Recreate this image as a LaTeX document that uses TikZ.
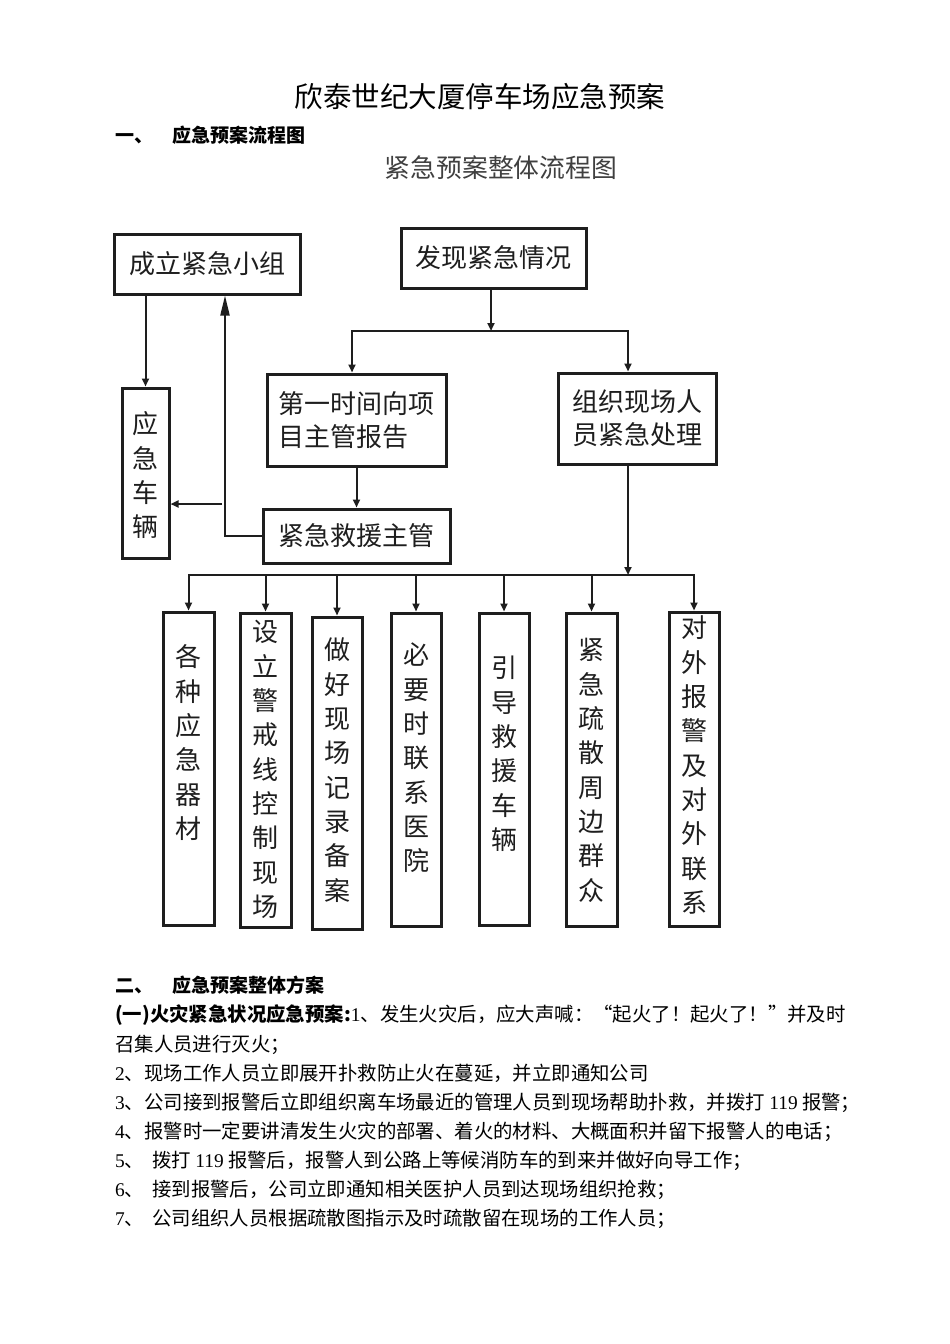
\documentclass[tikz,border=0pt]{standalone}
\usepackage{fontspec}
\setmainfont{Noto Sans CJK SC}
\newfontfamily\latn{Liberation Serif}
\usetikzlibrary{arrows.meta}
\definecolor{ink}{HTML}{1E1E1E}
\begin{document}
\begin{tikzpicture}[x=1pt,y=-1pt,
  box/.style={draw=ink, line width=3pt, inner sep=0pt, text=ink, font=\fontsize{26}{33}\selectfont},
  vch/.style={inner sep=0pt, text=ink, text height=20.8pt, text depth=1pt, font=\fontsize{26}{26}\selectfont},
  conn/.style={line width=2pt, draw=ink},
  arr/.style={conn, -{Triangle[length=8pt,width=7pt]}},
  bigarr/.style={conn, -{Triangle[length=20pt,width=9pt]}},
  ln/.style={anchor=west, inner sep=0pt, text height=15.5pt, text depth=0.8pt, font=\fontsize{19.4}{19.4}\selectfont},
  bln/.style={ln, font=\bfseries\fontsize{19}{19}\selectfont},
]
\useasboundingbox (0,0) rectangle (950,1344);
\fill[white] (0,0) rectangle (950,1344);

% headings
\node[inner sep=0pt, text height=22.8pt, text depth=1pt, font=\fontsize{28.5}{30}\selectfont] (title) at (480,97) {欣泰世纪大厦停车场应急预案};
\node[bln] (sec1num) at (115,135) {一、};
\node[bln] (sec1) at (172,135) {应急预案流程图};
\node[inner sep=0pt, text height=20.6pt, text depth=1pt, text=black!75, font=\fontsize{25.8}{26}\selectfont] (dtitle) at (501,168) {紧急预案整体流程图};

% upper boxes
\node[box, minimum width=186pt, minimum height=60pt] (grp) at (207,264) {成立紧急小组};
\node[box, minimum width=185pt, minimum height=60pt] (find) at (493.5,258) {发现紧急情况};
\node[box, minimum width=179pt, minimum height=92pt, align=left] (rep) at (356.5,420) {第一时间向项\\目主管报告};
\node[box, minimum width=158pt, minimum height=91pt, align=left] (org) at (637,418.5) {组织现场人\\员紧急处理};
\node[box, minimum width=187pt, minimum height=54pt] (sup) at (356.5,536) {紧急救援主管};
\node[box, minimum width=47pt, minimum height=170pt] (veh) at (145.5,473) {};
\foreach \c [count=\i from 0] in {应,急,车,辆}
  \node[vch] (vehc\i) at (145.5,{424+34.3*\i}) {\c};

% lower boxes
\node[box, minimum width=51pt, minimum height=313pt] (b1) at (188.5,768.5) {};
\node[box, minimum width=51pt, minimum height=314pt] (b2) at (265.5,770) {};
\node[box, minimum width=50pt, minimum height=312pt] (b3) at (337,773) {};
\node[box, minimum width=50pt, minimum height=313pt] (b4) at (416,769.5) {};
\node[box, minimum width=50pt, minimum height=312pt] (b5) at (504,769) {};
\node[box, minimum width=51pt, minimum height=313pt] (b6) at (591.5,769.5) {};
\node[box, minimum width=50pt, minimum height=314pt] (b7) at (694,769) {};
\foreach \c [count=\i from 0] in {各,种,应,急,器,材}
  \node[vch] (b1c\i) at (188.5,{657+34.3*\i}) {\c};
\foreach \c [count=\i from 0] in {设,立,警,戒,线,控,制,现,场}
  \node[vch] (b2c\i) at (265.5,{632+34.3*\i}) {\c};
\foreach \c [count=\i from 0] in {做,好,现,场,记,录,备,案}
  \node[vch] (b3c\i) at (337,{650+34.3*\i}) {\c};
\foreach \c [count=\i from 0] in {必,要,时,联,系,医,院}
  \node[vch] (b4c\i) at (416,{655+34.3*\i}) {\c};
\foreach \c [count=\i from 0] in {引,导,救,援,车,辆}
  \node[vch] (b5c\i) at (504,{668+34.3*\i}) {\c};
\foreach \c [count=\i from 0] in {紧,急,疏,散,周,边,群,众}
  \node[vch] (b6c\i) at (591.5,{650+34.3*\i}) {\c};
\foreach \c [count=\i from 0] in {对,外,报,警,及,对,外,联,系}
  \node[vch] (b7c\i) at (694,{628+34.3*\i}) {\c};

% connectors
\coordinate (split) at (491,331);
\coordinate (barL) at (352,331);
\coordinate (barR) at (628,331);
\draw[arr] (split |- find.south) -- (split);
\draw[arr] (split) -- (barL) -- (barL |- rep.north);
\draw[arr] (split) -- (barR) -- (barR |- org.north);
\draw[arr] (rep.south) -- (sup.north);
\coordinate (up) at (225,536);
\draw[bigarr] (sup.west) -- (up) -- (up |- grp.south);
\coordinate (vj) at (222,504);
\draw[arr] (vj) -- (vj -| veh.east);
\draw[arr] (veh.north |- grp.south) -- (veh.north);
\coordinate (bar2) at (628,575);
\draw[arr] (bar2 |- org.south) -- (bar2);
\draw[arr] (bar2) -- (b1.north |- bar2) -- (b1.north);
\draw[arr] (bar2) -- (b7.north |- bar2) -- (b7.north);
\foreach \k in {b2,b3,b4,b5,b6}
  \draw[arr] (\k.north |- bar2) -- (\k.north);

% body text
\node[bln] (sec2num) at (115,985) {二、};
\node[bln] (sec2) at (172,985) {应急预案整体方案};
\node[ln] (l1) at (115,1014) {\textbf{(一)火灾紧急状况应急预案:}{\latn 1}、发生火灾后，应大声喊：“起火了！起火了！”并及时};
\node[ln] (l2) at (115,1044) {召集人员进行灭火；};
\node[ln] (l3) at (115,1073) {{\latn 2}、现场工作人员立即展开扑救防止火在蔓延，并立即通知公司};
\node[ln] (l4) at (115,1102) {{\latn 3}、公司接到报警后立即组织离车场最近的管理人员到现场帮助扑救，并拨打 {\latn 119} 报警；};
\node[ln] (l5) at (115,1131) {{\latn 4}、报警时一定要讲清发生火灾的部署、着火的材料、大概面积并留下报警人的电话；};
\node[ln] (l6) at (115,1160) {{\latn 5}、\hspace{8pt}拨打 {\latn 119} 报警后，报警人到公路上等候消防车的到来并做好向导工作；};
\node[ln] (l7) at (115,1189) {{\latn 6}、\hspace{8pt}接到报警后，公司立即通知相关医护人员到达现场组织抢救；};
\node[ln] (l8) at (115,1218) {{\latn 7}、\hspace{8pt}公司组织人员根据疏散图指示及时疏散留在现场的工作人员；};
\end{tikzpicture}
\end{document}
